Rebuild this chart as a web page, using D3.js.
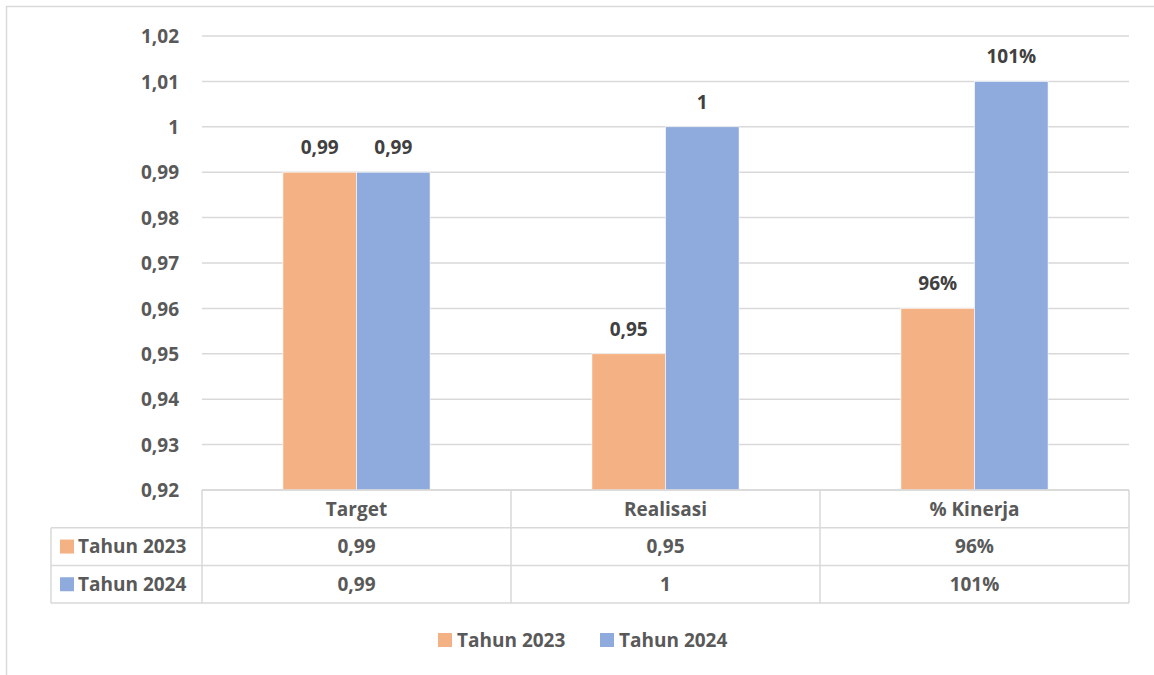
<!DOCTYPE html>
<html>
<head>
<meta charset="utf-8">
<script src="https://cdn.jsdelivr.net/npm/d3@7"></script>
<style>
  body { margin: 0; background: #fff; }
  svg text { font-family: "Open Sans", Lato, sans-serif; font-weight: bold; }
</style>
</head>
<body>
<div id="chart"></div>
<script>
let categories = ["Target", "Realisasi", "% Kinerja"];
let seriesNames = ["Tahun 2023", "Tahun 2024"];
let values2023 = [0.99, 0.95, 0.96];
let values2024 = [0.99, 1, 1.01];
let labels2023 = ["0,99", "0,95", "96%"];
let labels2024 = ["0,99", "1", "101%"];
let yTicks = [0.92, 0.93, 0.94, 0.95, 0.96, 0.97, 0.98, 0.99, 1, 1.01, 1.02];

let colors = ["#F4B183", "#8FAADC"];
let width = 1154, height = 675;
let plot = {left: 202, right: 1129, top: 36, bottom: 490};
let rowH = 37.7;
let tableLeft = 51;
let fontSize = "19px";

let series = [
  {name: seriesNames[0], values: values2023, labels: labels2023, color: colors[0]},
  {name: seriesNames[1], values: values2024, labels: labels2024, color: colors[1]}
];

let svg = d3.select("#chart").append("svg")
  .attr("width", width)
  .attr("height", height);

// chart frame
svg.append("rect")
  .attr("x", 6.5).attr("y", 6.5)
  .attr("width", 1200).attr("height", 800)
  .attr("fill", "none")
  .attr("stroke", "#d9d9d9")
  .attr("stroke-width", 1.5);

let locale = d3.formatLocale({decimal: ",", thousands: ".", grouping: [3], currency: ["", ""]});
let fmt = locale.format(".2~f");

let y = d3.scaleLinear().domain([0.92, 1.02]).range([plot.bottom, plot.top]);
let x0 = d3.scaleBand().domain(categories).range([plot.left, plot.right]);
let x1 = d3.scaleBand().domain(seriesNames).range([0, x0.bandwidth()])
  .paddingInner(0).paddingOuter(1.1);

// gridlines
svg.append("g")
  .selectAll("line")
  .data(yTicks)
  .enter().append("line")
  .attr("x1", plot.left).attr("x2", plot.right)
  .attr("y1", d => y(d)).attr("y2", d => y(d))
  .attr("stroke", "#d9d9d9")
  .attr("stroke-width", 1.5);

// y tick labels
let yAxis = svg.append("g")
  .attr("transform", `translate(${plot.left - 23},0)`)
  .call(d3.axisLeft(y).tickValues(yTicks).tickFormat(fmt).tickSize(0).tickPadding(0));
yAxis.select(".domain").remove();
yAxis.selectAll("text")
  .attr("fill", "#595959")
  .style("font-size", fontSize)
  .attr("dy", "0.35em");

// bars
let groups = svg.append("g")
  .selectAll("g")
  .data(series)
  .enter().append("g")
  .attr("fill", d => d.color);

groups.selectAll("rect")
  .data(s => s.values.map((v, i) => ({name: s.name, cat: categories[i], v: v})))
  .enter().append("rect")
  .attr("x", d => x0(d.cat) + x1(d.name))
  .attr("y", d => y(d.v))
  .attr("width", x1.bandwidth())
  .attr("height", d => y(0.92) - y(d.v))
  .attr("stroke", "#fff")
  .attr("stroke-width", 0.6);

// data labels
groups.selectAll("text")
  .data(s => s.values.map((v, i) => ({name: s.name, cat: categories[i], v: v, label: s.labels[i]})))
  .enter().append("text")
  .attr("x", d => x0(d.cat) + x1(d.name) + x1.bandwidth() / 2)
  .attr("y", d => y(d.v) - 18)
  .attr("text-anchor", "middle")
  .attr("fill", "#404040")
  .style("font-size", fontSize)
  .text(d => d.label);

// data table
let table = svg.append("g");
let lineCol = "#d9d9d9";
let rowYs = [plot.bottom, plot.bottom + rowH, plot.bottom + rowH * 2, plot.bottom + rowH * 3];

// horizontal lines
table.append("line")
  .attr("x1", plot.left).attr("x2", plot.right)
  .attr("y1", rowYs[0]).attr("y2", rowYs[0]);
rowYs.slice(1).forEach(function(ry) {
  table.append("line")
    .attr("x1", tableLeft).attr("x2", plot.right)
    .attr("y1", ry).attr("y2", ry);
});
// vertical lines
let colXs = [plot.left].concat(categories.map(c => x0(c) + x0.bandwidth()));
colXs.forEach(function(cx) {
  table.append("line")
    .attr("x1", cx).attr("x2", cx)
    .attr("y1", rowYs[0]).attr("y2", rowYs[3]);
});
table.append("line")
  .attr("x1", tableLeft).attr("x2", tableLeft)
  .attr("y1", rowYs[1]).attr("y2", rowYs[3]);
table.selectAll("line")
  .attr("stroke", lineCol)
  .attr("stroke-width", 1.5);

// header
table.selectAll("text.head")
  .data(categories)
  .enter().append("text")
  .attr("class", "head")
  .attr("x", d => x0(d) + x0.bandwidth() / 2)
  .attr("y", rowYs[0] + rowH / 2)
  .attr("dy", "0.35em")
  .attr("text-anchor", "middle")
  .attr("fill", "#595959")
  .style("font-size", fontSize)
  .text(d => d);

series.forEach(function(s, si) {
  let cy = rowYs[si + 1] + rowH / 2;
  table.append("rect")
    .attr("x", 60).attr("y", cy - 7)
    .attr("width", 14).attr("height", 14)
    .attr("fill", s.color);
  table.append("text")
    .attr("x", 78).attr("y", cy)
    .attr("dy", "0.35em")
    .attr("fill", "#595959")
    .style("font-size", fontSize)
    .text(s.name);
  table.selectAll("text.v" + si)
    .data(s.labels)
    .enter().append("text")
    .attr("class", "v" + si)
    .attr("x", (d, i) => x0(categories[i]) + x0.bandwidth() / 2)
    .attr("y", cy)
    .attr("dy", "0.35em")
    .attr("text-anchor", "middle")
    .attr("fill", "#595959")
    .style("font-size", fontSize)
    .text(d => d);
});

// legend
let legendX = [438, 600];
let legend = svg.append("g")
  .selectAll("g")
  .data(series)
  .enter().append("g")
  .attr("transform", (d, i) => `translate(${legendX[i]},640)`);
legend.append("rect")
  .attr("x", 0).attr("y", -7)
  .attr("width", 14).attr("height", 14)
  .attr("fill", d => d.color);
legend.append("text")
  .attr("x", 19).attr("y", 0)
  .attr("dy", "0.35em")
  .attr("fill", "#595959")
  .style("font-size", fontSize)
  .text(d => d.name);
</script>
</body>
</html>
